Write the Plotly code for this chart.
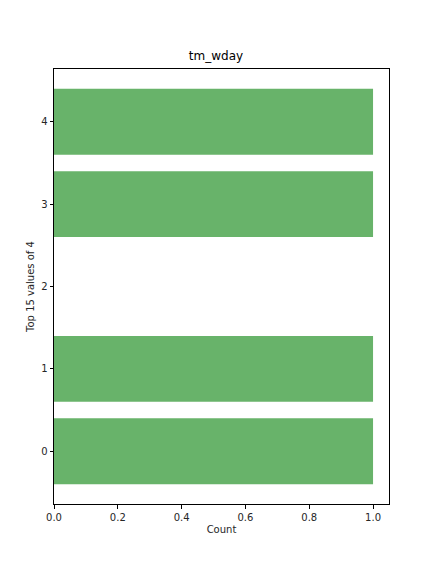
import plotly.graph_objects as go

categories = [0, 1, 3, 4]
counts = [1, 1, 1, 1]
y_ticks = [0, 1, 2, 3, 4]
x_ticks = [0.0, 0.2, 0.4, 0.6, 0.8, 1.0]

fig = go.Figure(go.Bar(
    x=counts, y=categories, orientation="h", width=0.8,
    marker=dict(color="rgb(104,179,106)", line=dict(width=0)),
))

font = dict(family="DejaVu Sans", size=10, color="#262626")
fig.update_layout(
    width=432, height=576,
    margin=dict(l=54, r=43, t=69, b=72),
    paper_bgcolor="white", plot_bgcolor="white",
    font=font, showlegend=False,
    title=dict(text="tm_wday", x=0.5, xanchor="center", y=1 - 60/576, yanchor="bottom",
               font=dict(family="DejaVu Sans", size=12, color="#000")),
)
axis_common = dict(showline=True, linecolor="#000", linewidth=1, mirror=True,
                   ticks="outside", ticklen=3.5, tickcolor="#000", showgrid=False,
                   zeroline=False, tickfont=font)
fig.update_xaxes(range=[0, 1.05], tickvals=x_ticks, ticktext=[f"{v:.1f}" for v in x_ticks],
                 title=dict(text="Count", font=font, standoff=4), **axis_common)
fig.update_yaxes(range=[-0.64, 4.64], tickvals=y_ticks, ticktext=[str(v) for v in y_ticks],
                 title=dict(text="Top 15 values of 4", font=font, standoff=4), **axis_common)

fig.write_html("out.html")
